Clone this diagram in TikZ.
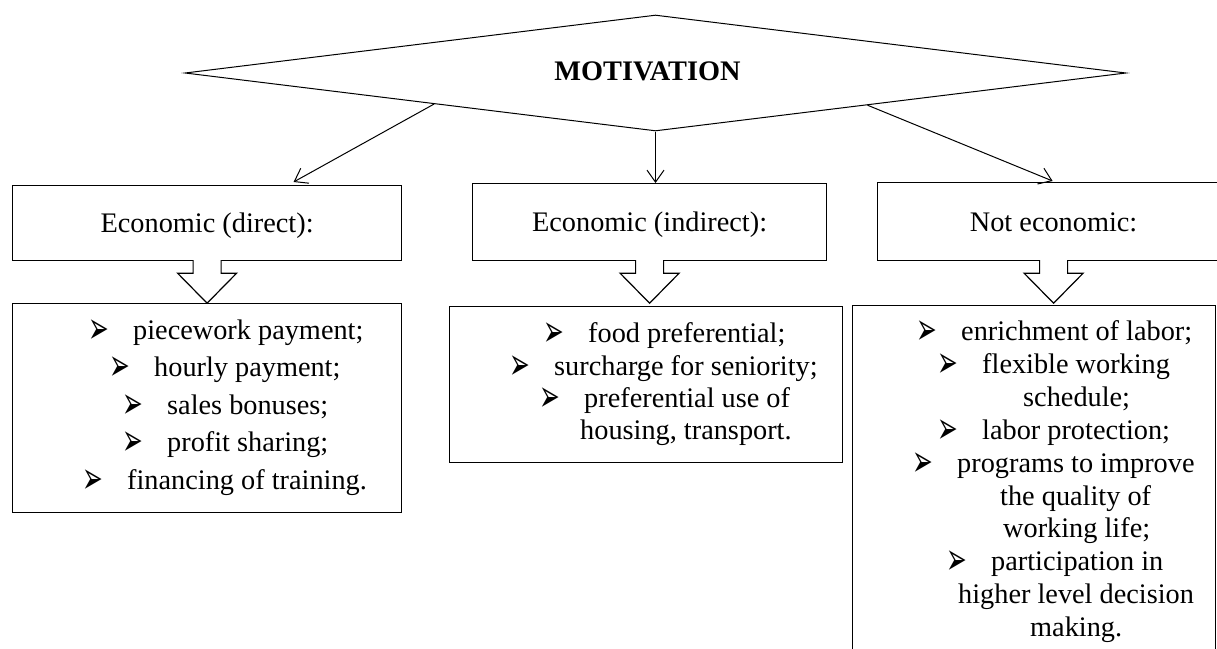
\documentclass[tikz,border=0pt]{standalone}
\usepackage{fontspec}
\setmainfont{Liberation Serif}
\newfontfamily\symfont{DejaVu Sans}
\usetikzlibrary{shapes.geometric,arrows.meta,calc}
\newcommand\blt{\makebox[41pt][l]{\hspace*{-4pt}\smash{\raisebox{-4pt}{\scalebox{0.75}[1.35]{\symfont\fontsize{33}{33}\selectfont ➢}}}}}
\newcommand\blockarr[1]{\filldraw[barrowstyle] ($(#1.south)+(-14,-1)$) -- ++(0,13) -- ++(-15.5,0) -- ++(29.5,30) -- ++(29.5,-30) -- ++(-15.5,0) -- ++(0,-13);}
\begin{document}
\begin{tikzpicture}[x=1pt,y=-1pt,
  font=\fontsize{28.3}{33}\selectfont,
  hdr/.style={draw, line width=1.2pt, anchor=north west, inner sep=0pt, text height=19pt, text depth=0pt},
  lst/.style={draw, line width=1.2pt, anchor=north west, inner sep=0pt},
  li/.style={anchor=base west, inner sep=0pt},
  conn/.style={line width=1pt, -{Straight Barb[length=12pt,width=17pt]}},
  barrowstyle/.style={line width=1.2pt, fill=white}]

\useasboundingbox (0,0) rectangle (1217,648);

% top diamond
\node[diamond, draw, line width=1pt, minimum width=941pt, minimum height=116pt, inner sep=0pt] (M) at (655.5,73) {};
\node[anchor=base, inner sep=0pt, font=\fontsize{28.3}{33}\selectfont\bfseries] (mt) at (647.5,80) {MOTIVATION};

% header boxes
\node[hdr, minimum width=389pt, minimum height=75pt] (E1) at (12,185) {Economic (direct):};
\node[hdr, minimum width=354pt, minimum height=77pt] (E2) at (472,183) {Economic (indirect):};
\node[hdr, minimum width=352pt, minimum height=78pt] (E3) at (877,182) {Not economic:};

% list boxes
\node[lst, minimum width=389pt, minimum height=209pt] (A) at (12,303) {};
\node[lst, minimum width=393pt, minimum height=156pt] (B) at (449,306) {};
\node[lst, minimum width=363pt, minimum height=360pt] (C) at (852,305) {};

% connectors
\draw[conn] ($(M.west)!0.53!(M.south)$) -- ($(E1.north)+(86.5,-3)$);
\draw[conn] (M.south) -- (M.south |- E2.north);
\draw[conn] ($(M.south)!0.45!(M.east)$) -- ($(E3.north)+(-1,-1)$);

% block arrows
\blockarr{E1}
\blockarr{E2}
\blockarr{E3}

% list A
\node[li] (a1) at (92,339) {\blt piecework payment;};
\node[li] (a2) at (113,376.5) {\blt hourly payment;};
\node[li] (a3) at (126,414) {\blt sales bonuses;};
\node[li] (a4) at (126,451.5) {\blt profit sharing;};
\node[li] (a5) at (86,489) {\blt financing of training.};

% list B
\node[li] (b1) at (547,342) {\blt food preferential;};
\node[li] (b2) at (513,375) {\blt surcharge for seniority;};
\node[li] (b3) at (543,407) {\blt preferential use of};
\node[li] (b4) at (580,439) {housing, transport.};

% list C
\node[li] (c1) at (920,340) {\blt enrichment of labor;};
\node[li] (c2) at (941,373) {\blt flexible working};
\node[li] (c3) at (1023,406) {schedule;};
\node[li] (c4) at (941,439) {\blt labor protection;};
\node[li] (c5) at (916,472) {\blt programs to improve};
\node[li] (c6) at (1000,505) {the quality of};
\node[li] (c7) at (1003,537) {working life;};
\node[li] (c8) at (950,570) {\blt participation in};
\node[li] (c9) at (958,603) {higher level decision};
\node[li] (c10) at (1030,636) {making.};
\end{tikzpicture}
\end{document}
